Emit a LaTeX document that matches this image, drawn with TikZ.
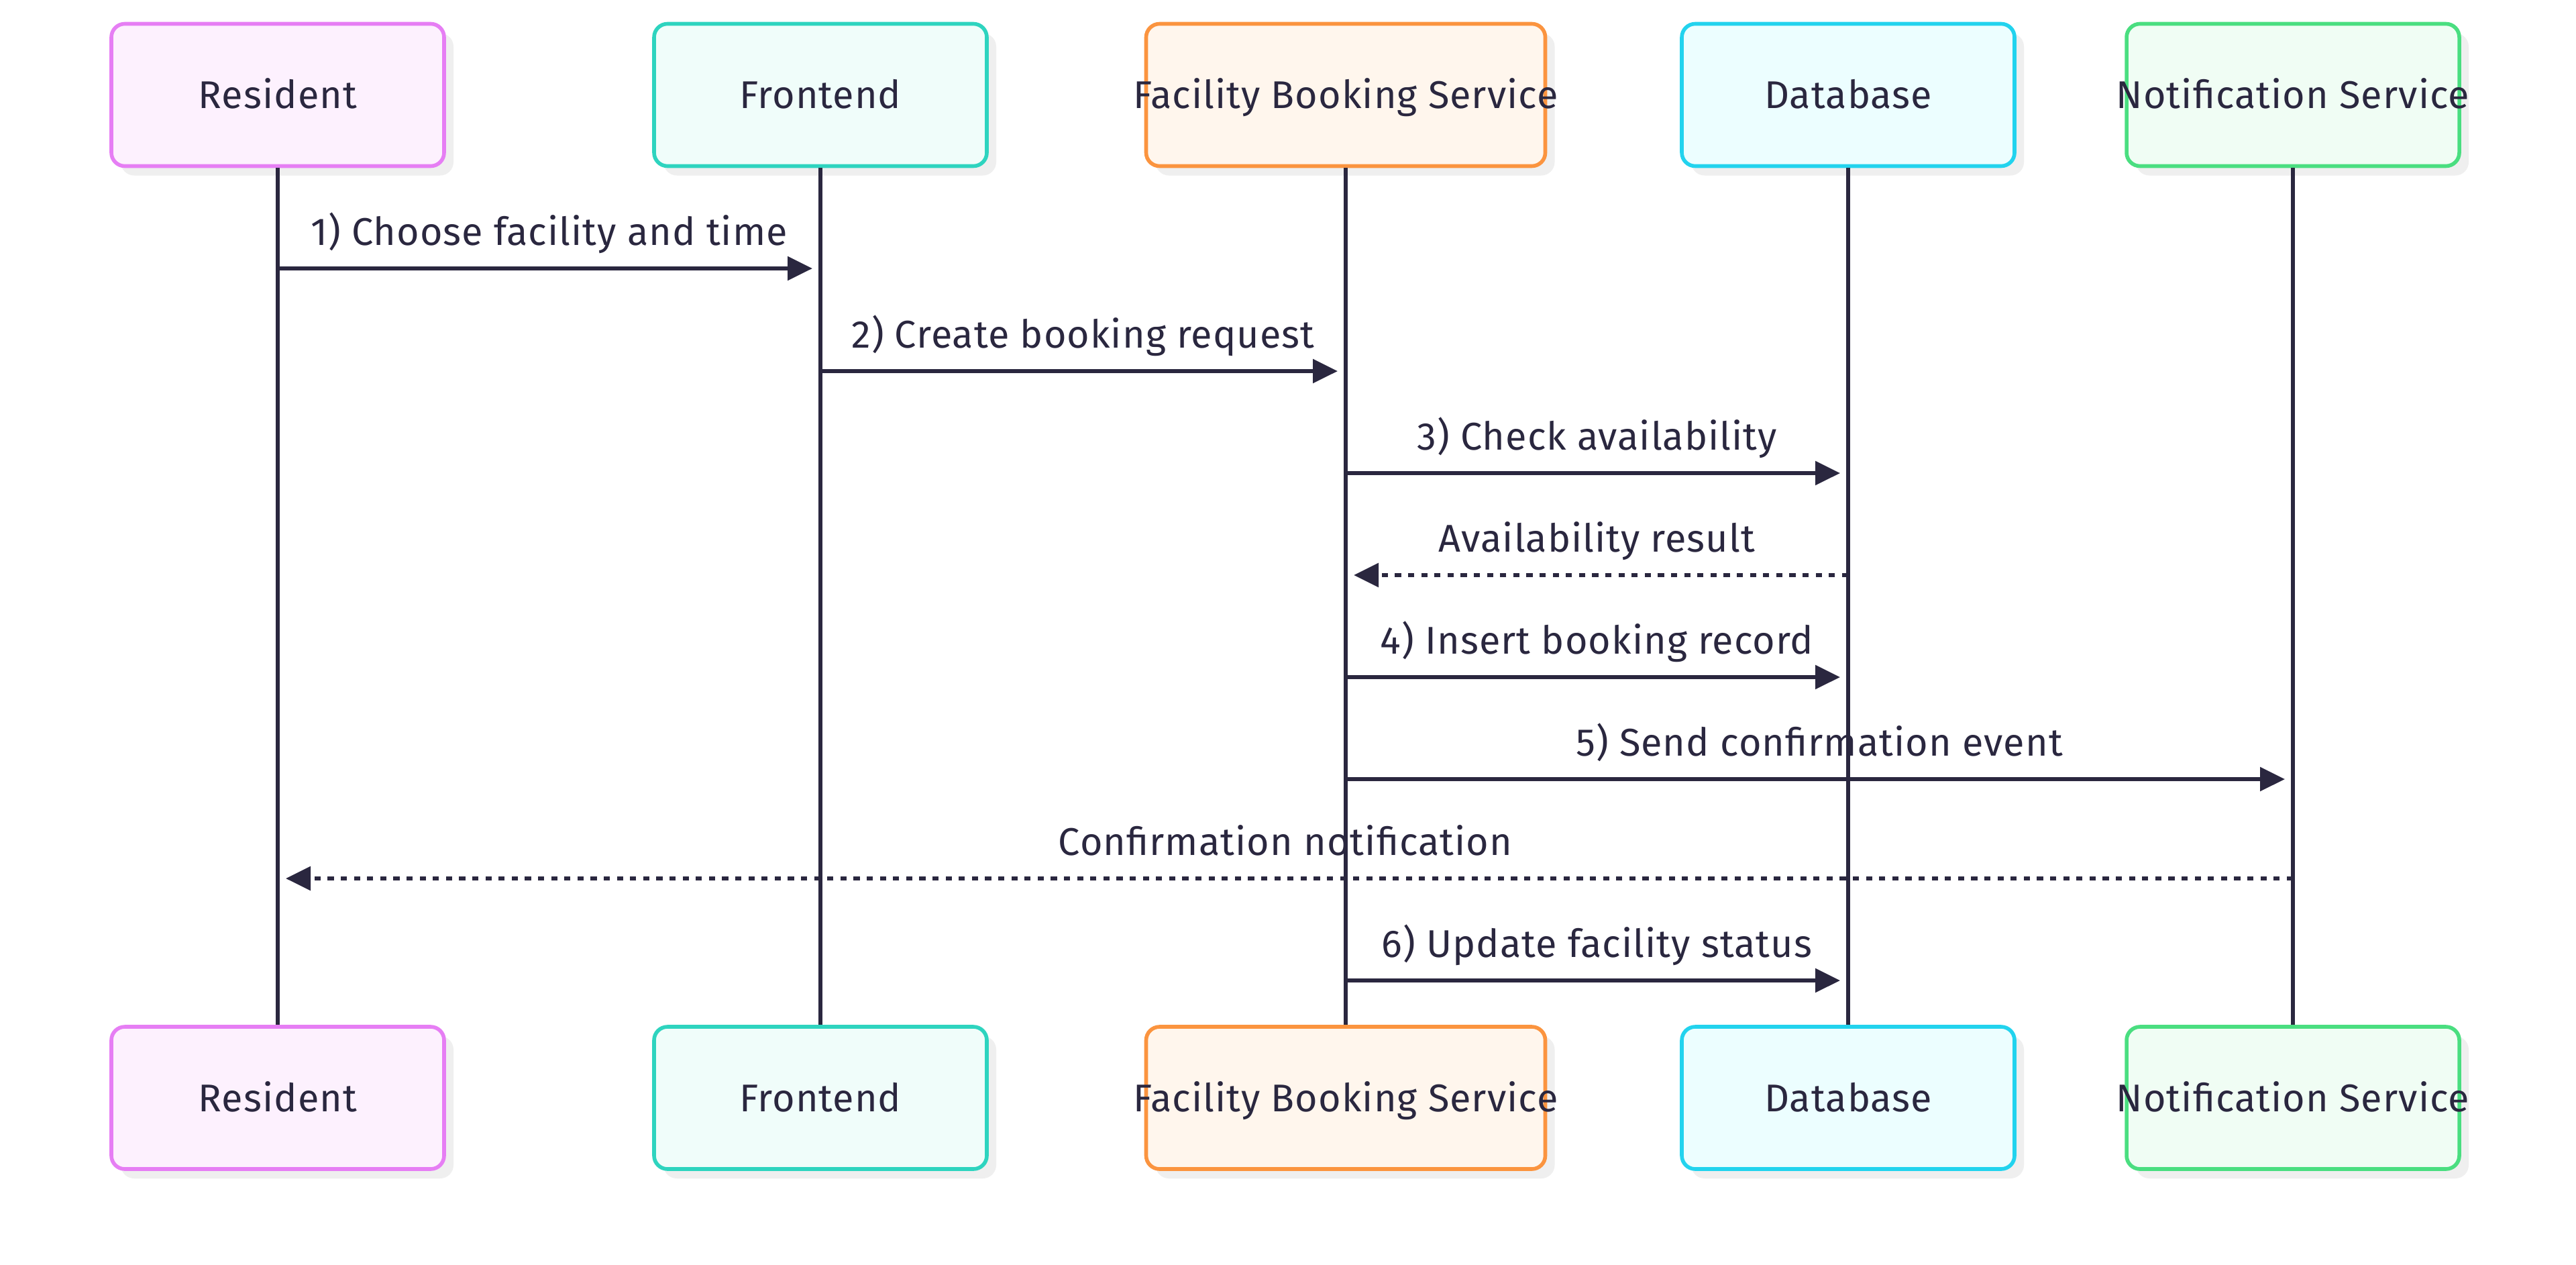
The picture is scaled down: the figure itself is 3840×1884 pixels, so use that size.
\documentclass[tikz,border=0pt]{standalone}
\usepackage{fontspec}
\setmainfont{Fira Sans}[LetterSpace=1.8]
\usetikzlibrary{arrows.meta,shadows,calc}
\definecolor{ink}{HTML}{2A273F}
\definecolor{shadowc}{HTML}{EFEFEF}
\definecolor{resB}{HTML}{E67EF4}
\definecolor{resF}{HTML}{FDF1FE}
\definecolor{froB}{HTML}{2ED4BF}
\definecolor{froF}{HTML}{F0FDFA}
\definecolor{fbsB}{HTML}{FB943F}
\definecolor{fbsF}{HTML}{FFF6ED}
\definecolor{dbB}{HTML}{22D3EE}
\definecolor{dbF}{HTML}{ECFEFF}
\definecolor{notB}{HTML}{4ADE80}
\definecolor{notF}{HTML}{F0FDF4}
\begin{document}
\begin{tikzpicture}[x=0.25pt,y=-0.25pt,
  actor/.style={draw, rounded corners=5pt, line width=1.4pt, minimum height=53pt, inner sep=0pt,
    drop shadow={shadow xshift=3.5pt, shadow yshift=-3.5pt, fill=shadowc, opacity=1}},
  normalw/.style={minimum width=124pt},
  widew/.style={minimum width=148.75pt},
  resident/.style={actor, normalw, draw=resB, fill=resF},
  frontend/.style={actor, normalw, draw=froB, fill=froF},
  fbs/.style={actor, widew, draw=fbsB, fill=fbsF},
  db/.style={actor, normalw, draw=dbB, fill=dbF},
  notif/.style={actor, normalw, draw=notB, fill=notF},
  aname/.style={font=\fontsize{14.4pt}{17pt}\selectfont, text=ink, anchor=base, inner sep=0pt},
  mlabel/.style={font=\fontsize{14.4pt}{17pt}\selectfont, text=ink, anchor=base, inner sep=0pt},
  lifeline/.style={draw=ink, line width=1.4pt},
  msg/.style={draw=ink, line width=1.4pt, -{Triangle[length=9.25pt,width=8.75pt]}},
  reply/.style={msg, dash pattern=on 2.3pt off 2.6pt},
]
\useasboundingbox (0,0) rectangle (3840,1884);
\fill[white] (0,0) rectangle (3840,1884);

% top actors
\node[resident] (rt) at (414,141.5) {};
\node[frontend] (ft) at (1223,141.5) {};
\node[fbs] (bt) at (2006,141.5) {};
\node[db] (dt) at (2755,141.5) {};
\node[notif] (nt) at (3418,141.5) {};
% bottom actors
\node[resident] (rb) at (414,1636) {};
\node[frontend] (fb) at (1223,1636) {};
\node[fbs] (bb) at (2006,1636) {};
\node[db] (db) at (2755,1636) {};
\node[notif] (nb) at (3418,1636) {};

% actor names
\node[aname] (rtt) at (414,161.5) {Resident};
\node[aname] (ftt) at (1223,161.5) {Frontend};
\node[aname] (btt) at (2006,161.5) {Facility Booking Service};
\node[aname] (dtt) at (2755,161.5) {Database};
\node[aname] (ntt) at (3418,161.5) {Notification Service};
\node[aname] (rbt) at (414,1656) {Resident};
\node[aname] (fbt) at (1223,1656) {Frontend};
\node[aname] (bbt) at (2006,1656) {Facility Booking Service};
\node[aname] (dbt) at (2755,1656) {Database};
\node[aname] (nbt) at (3418,1656) {Notification Service};

% lifelines
\draw[lifeline] (rt.south) -- (rb.north);
\draw[lifeline] (ft.south) -- (fb.north);
\draw[lifeline] (bt.south) -- (bb.north);
\draw[lifeline] (dt.south) -- (db.north);
\draw[lifeline] (nt.south) -- (nb.north);

% message end points on lifelines
\coordinate (m1a) at (rt |- 0,400);  \coordinate (m1b) at (ft |- 0,400);
\coordinate (m2a) at (ft |- 0,553);  \coordinate (m2b) at (bt |- 0,553);
\coordinate (m3a) at (bt |- 0,705);  \coordinate (m3b) at (dt |- 0,705);
\coordinate (m4a) at (dt |- 0,857);  \coordinate (m4b) at (bt |- 0,857);
\coordinate (m5a) at (bt |- 0,1009); \coordinate (m5b) at (dt |- 0,1009);
\coordinate (m6a) at (bt |- 0,1161); \coordinate (m6b) at (nt |- 0,1161);
\coordinate (m7a) at (nt |- 0,1309); \coordinate (m7b) at (rt |- 0,1309);
\coordinate (m8a) at (bt |- 0,1461); \coordinate (m8b) at (dt |- 0,1461);

% messages
\draw[msg] (m1a) -- ([xshift=-3pt]m1b);
\draw[msg] (m2a) -- ([xshift=-3pt]m2b);
\draw[msg] (m3a) -- ([xshift=-3pt]m3b);
\draw[reply] (m4a) -- ([xshift=3pt]m4b);
\draw[msg] (m5a) -- ([xshift=-3pt]m5b);
\draw[msg] (m6a) -- ([xshift=-3pt]m6b);
\draw[reply] (m7a) -- ([xshift=3pt]m7b);
\draw[msg] (m8a) -- ([xshift=-3pt]m8b);

% labels
\node[mlabel] (l1) at ($(m1a)!0.5!(m1b)+(0,-35)$) {1) Choose facility and time};
\node[mlabel] (l2) at ($(m2a)!0.5!(m2b)+(0,-35)$) {2) Create booking request};
\node[mlabel] (l3) at ($(m3a)!0.5!(m3b)+(0,-35)$) {3) Check availability};
\node[mlabel] (l4) at ($(m4a)!0.5!(m4b)+(0,-35)$) {Availability result};
\node[mlabel] (l5) at ($(m5a)!0.5!(m5b)+(0,-35)$) {4) Insert booking record};
\node[mlabel] (l6) at ($(m6a)!0.5!(m6b)+(0,-35)$) {5) Send confirmation event};
\node[mlabel] (l7) at ($(m7a)!0.5!(m7b)+(0,-35)$) {Confirmation notification};
\node[mlabel] (l8) at ($(m8a)!0.5!(m8b)+(0,-35)$) {6) Update facility status};
\end{tikzpicture}
\end{document}
